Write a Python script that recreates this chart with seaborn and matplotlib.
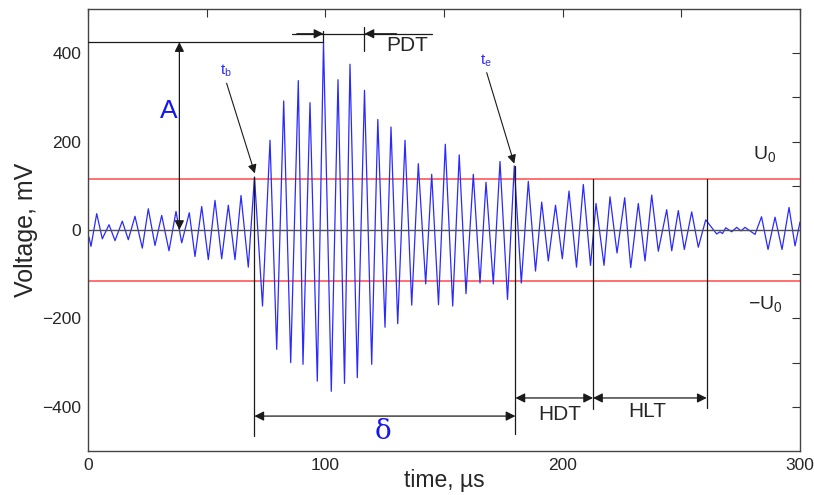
import matplotlib
matplotlib.use("Agg")
import matplotlib.pyplot as plt
import pandas as pd
import seaborn as sns

t_us = [0.42, 1.26, 3.67, 6.03, 8.85, 11.38, 14.45, 16.98, 19.80, 22.88,
        25.41, 28.23, 31.05, 34.13, 37.08, 39.48, 42.68, 45.08, 47.91, 50.69,
        53.51, 56.33, 59.12, 61.94, 64.47, 67.54, 70.15, 73.53, 76.69, 79.51,
        82.46, 85.41, 88.61, 90.59, 93.54, 96.62, 99.23, 102.51, 105.34, 108.08,
        110.39, 113.47, 116.50, 119.54, 122.11, 125.14, 127.67, 130.50, 133.57, 136.40,
        139.17, 142.29, 144.82, 147.68, 150.55, 153.67, 156.41, 159.27, 162.35, 165.17,
        167.70, 170.78, 173.60, 176.76, 179.62, 182.57, 185.52, 188.56, 191.17, 193.95,
        196.99, 199.85, 202.67, 205.83, 208.70, 211.73, 214.05, 217.42, 219.95, 222.90,
        226.14, 228.67, 231.87, 234.70, 237.52, 240.30, 243.84, 245.95, 248.73, 251.26,
        254.37, 257.15, 260.27, 264.90, 266.30, 267.35, 268.70, 271.23, 273.34, 275.15,
        276.84, 278.94, 281.05, 283.79, 286.53, 289.48, 292.43, 295.38, 297.91, 300.0]
voltage_mv = [-16, -37, 37, -20, 12, -24, 20, -22, 31, -41,
              48, -35, 33, -47, 42, -29, 39, -60, 53, -67,
              67, -65, 56, -67, 78, -84, 120, -172, 203, -270,
              292, -300, 338, -304, 288, -342, 425, -365, 340, -347,
              375, -334, 316, -304, 250, -220, 233, -212, 203, -170,
              150, -122, 126, -169, 194, -172, 170, -144, 126, -120,
              108, -122, 155, -157, 145, -120, 110, -93, 63, -70,
              56, -65, 88, -84, 103, -80, 60, -80, 75, -52,
              73, -85, 60, -70, 79, -48, 46, -47, 44, -44,
              41, -39, 23, -9, -4, -8, 5, -4, 6, -2,
              6, -2, -10, 30, -44, 29, -44, 51, -36, 18]

threshold_mv = 115
amplitude_mv = 425
t_peak_us = 99.2
t_begin_us = 70.1
t_end_us = 180.1
t_hdt_us = 212.8
t_hlt_us = 260.7
t_pdt_us = 116.5

x_ticks = [0, 50, 100, 150, 200, 250, 300]
x_tick_labels = ["0", "", "100", "", "200", "", "300"]
y_ticks = [-400, -300, -200, -100, 0, 100, 200, 300, 400]
y_tick_labels = ["\u2212400", "", "\u2212200", "", "0", "", "200", "", "400"]

# ---- figure ----
sns.set_theme(style="white")
plt.rcParams["font.family"] = ["Liberation Sans", "DejaVu Sans"]
plt.rcParams["mathtext.fontset"] = "custom"
plt.rcParams["mathtext.rm"] = "Liberation Sans"
plt.rcParams["mathtext.it"] = "Liberation Sans"

fig = plt.figure(figsize=(8.14, 4.95), dpi=100)
ax = fig.add_axes([88 / 814, 1 - 451 / 495, 712 / 814, 442 / 495])

df = pd.DataFrame({"time": t_us, "voltage": voltage_mv})
sns.lineplot(data=df, x="time", y="voltage", ax=ax, color="#2a2aff",
             lw=0.9, sort=False, estimator=None, zorder=2)
for ln in ax.lines:
    ln.set_solid_joinstyle("round")

ax.axhline(threshold_mv, color="#ff7070", lw=1.4, zorder=1)
ax.axhline(-threshold_mv, color="#ff7070", lw=1.4, zorder=1)
ax.axhline(0, color="#505050", lw=1.0, zorder=3)

ax.set_xlim(0, 300)
ax.set_ylim(-500, 500)

lc = "#1a1a1a"
# vertical markers
ax.plot([t_begin_us, t_begin_us], [120, -466], color=lc, lw=0.9, zorder=4)
ax.plot([t_end_us, t_end_us], [145, -462], color=lc, lw=0.9, zorder=4)
ax.plot([t_hdt_us, t_hdt_us], [threshold_mv, -406], color=lc, lw=0.9, zorder=4)
ax.plot([t_hlt_us, t_hlt_us], [threshold_mv, -402], color=lc, lw=0.9, zorder=4)

# amplitude
ax.plot([0, t_peak_us], [amplitude_mv, amplitude_mv], color=lc, lw=0.9, zorder=4)
ax.plot([t_peak_us, t_peak_us], [amplitude_mv, 450], color=lc, lw=0.9, zorder=4)
ap = dict(color="k", lw=0.9, mutation_scale=14, shrinkA=0, shrinkB=0)
ax.annotate("", xy=(38.5, 0), xytext=(38.5, amplitude_mv),
            arrowprops=dict(arrowstyle="<|-|>", **ap))
ax.text(34.1, 270, "A", color="#1515f0", fontsize=19, ha="center", va="center")

# PDT
ax.plot([86, 145], [444, 444], color=lc, lw=0.9)
ax.plot([t_pdt_us, t_pdt_us], [405, 460], color=lc, lw=0.9)
ax.annotate("", xy=(t_peak_us, 444), xytext=(88, 444),
            arrowprops=dict(arrowstyle="-|>", **ap))
ax.annotate("", xy=(t_pdt_us, 444), xytext=(130, 444),
            arrowprops=dict(arrowstyle="-|>", **ap))
ax.text(134.6, 418, "PDT", fontsize=15, ha="center", va="center")

# duration delta
ax.annotate("", xy=(t_end_us, -421), xytext=(t_begin_us, -421),
            arrowprops=dict(arrowstyle="<|-|>", **ap))
ax.text(124.3, -457, "\u03b4", color="#1515f0", fontsize=20, ha="center",
        va="center", family=["DejaVu Serif"])

# HDT / HLT
ax.annotate("", xy=(t_hdt_us, -380), xytext=(t_end_us, -380),
            arrowprops=dict(arrowstyle="<|-|>", **ap))
ax.text(198.9, -417, "HDT", fontsize=15, ha="center", va="center")
ax.annotate("", xy=(t_hlt_us, -380), xytext=(t_hdt_us, -380),
            arrowprops=dict(arrowstyle="<|-|>", **ap))
ax.text(235.5, -410, "HLT", fontsize=15, ha="center", va="center")

# t_b, t_e pointers
ax.text(58.1, 360, r"$\mathregular{t_b}$", color="#2a2aff", fontsize=11,
        ha="center", va="center")
ax.annotate("", xy=(70.3, 128), xytext=(58.4, 332),
            arrowprops=dict(arrowstyle="-|>", color="k", lw=0.8,
                            mutation_scale=13, shrinkA=0, shrinkB=0))
ax.text(167.7, 383, r"$\mathregular{t_e}$", color="#2a2aff", fontsize=11,
        ha="center", va="center")
ax.annotate("", xy=(179.6, 150), xytext=(168.0, 356),
            arrowprops=dict(arrowstyle="-|>", color="k", lw=0.8,
                            mutation_scale=13, shrinkA=0, shrinkB=0))

# threshold labels
ax.text(280.0, 171, r"$\mathregular{U_0}$", fontsize=14, ha="left", va="center")
ax.text(278.0, -168, r"$\mathregular{-U_0}$", fontsize=14, ha="left", va="center")

# axes styling
ax.set_xticks(x_ticks)
ax.set_xticklabels(x_tick_labels)
ax.set_yticks(y_ticks)
ax.set_yticklabels(y_tick_labels)
ax.tick_params(direction="in", top=True, right=True, length=6, width=0.8,
               labelsize=12.5, color="#333333", pad=5)
for s in ax.spines.values():
    s.set_color("#444444")
    s.set_linewidth(1.0)
ax.set_xlabel("time, \u00b5s", fontsize=16.5)
ax.xaxis.set_label_coords(0.5, -0.040)
ax.set_ylabel("Voltage, mV", fontsize=18, labelpad=3)

fig.savefig("out.png", dpi=100)
